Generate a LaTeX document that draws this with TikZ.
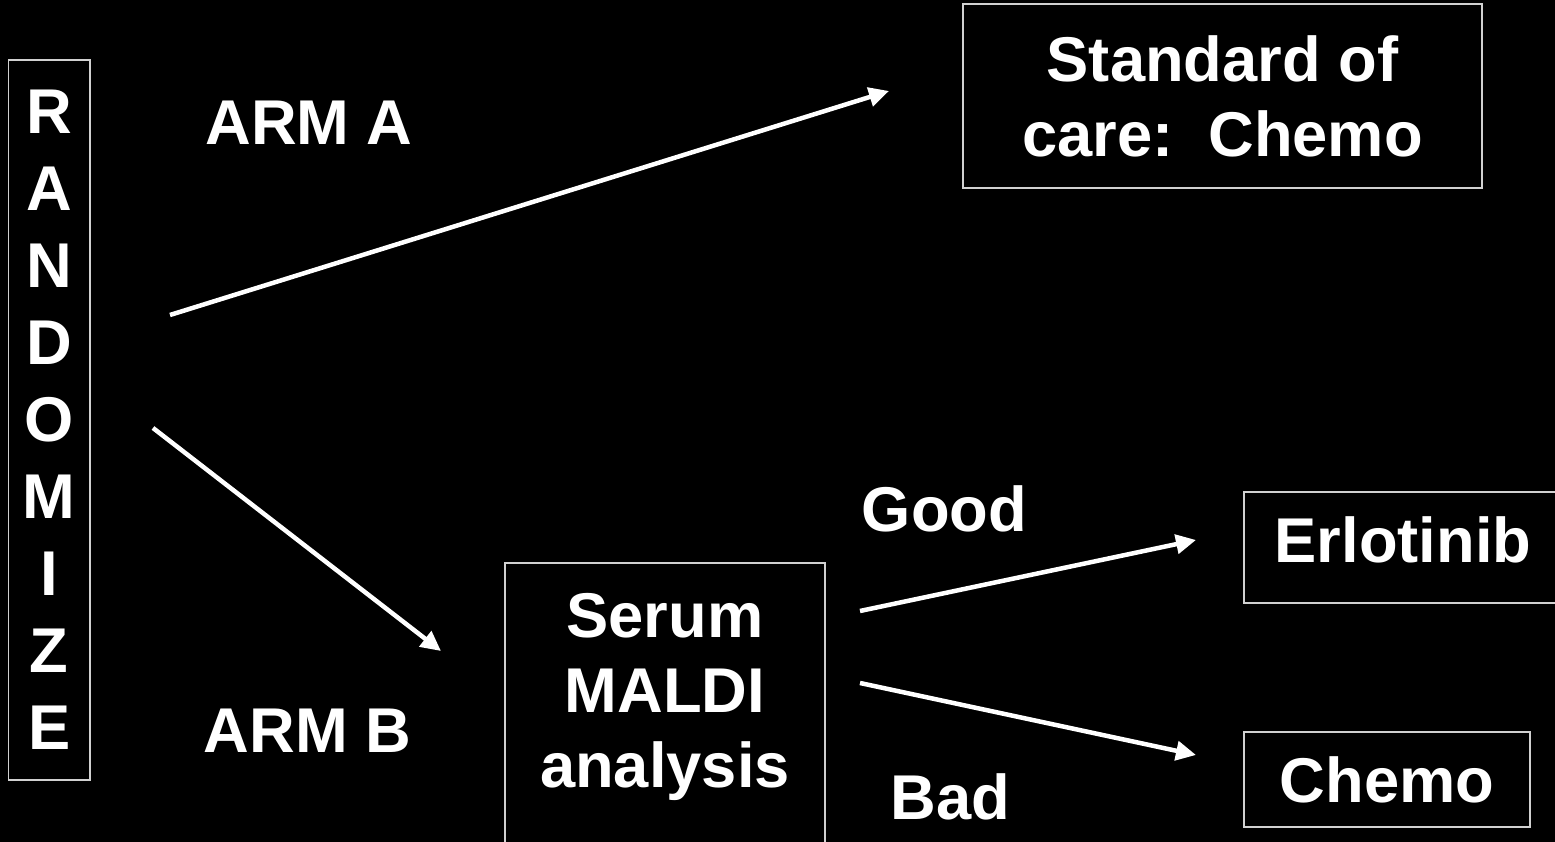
\documentclass[tikz,border=0pt]{standalone}
\usepackage{fontspec}
\setmainfont{Liberation Sans}
\usetikzlibrary{arrows.meta, positioning}
\tikzset{
  lbl/.style={
    text=white, font=\bfseries\fontsize{36}{42.7}\selectfont,
    inner sep=0pt, align=center
  },
  box/.style={
    rectangle, draw=white!82!black, line width=0.035cm, lbl
  },
  arr/.style={-{Triangle[length=0.4cm, width=0.38cm]}, white, line width=0.09cm}
}

\begin{document}
\begin{tikzpicture}

\path[use as bounding box, fill=black] (0,0) rectangle (31.1,16.84);

% Randomisation column
\node[box, minimum width=1.63cm, minimum height=14.4cm,
      font=\bfseries\fontsize{36}{43.8}\selectfont] (rand) at (0.985,8.44)
      {R\\A\\N\\D\\O\\M\\I\\Z\\E};

% Arm labels
\node[lbl, anchor=base] (armA) at (6.18,13.94) {ARM A};
\node[lbl, anchor=base] (armB) at (6.15,1.78)  {ARM B};

% Treatment and test boxes
\node[box, minimum width=10.38cm, minimum height=3.68cm] (std) at (24.45,14.92)
      {Standard of\\care:\ \ Chemo};
\node[box, minimum width=6.4cm, minimum height=5.94cm] (serum) at (13.3,2.61) {};
\node[lbl, below=0.62cm of serum.north] (maldi) {Serum\\MALDI\\analysis};
\node[box, minimum width=6.36cm, minimum height=2.22cm, text depth=0.3cm] (erl) at (28.06,5.89)
      {Erlotinib};
\node[box, minimum width=5.72cm, minimum height=1.9cm] (chemo) at (27.74,1.25) {Chemo};

% Outcome labels
\node[lbl, anchor=base] (good) at (18.89,6.2)  {Good};
\node[lbl, anchor=base] (bad)  at (19.01,0.44) {Bad};

% Arrow end points
\coordinate (aOut)    at (3.4,10.54);
\coordinate (aIn)     at (17.78,15.02);
\coordinate (bOut)    at (3.06,8.28);
\coordinate (bIn)     at (8.82,3.82);
\coordinate (goodOut) at (17.2,4.62);
\coordinate (goodIn)  at (23.92,6.04);
\coordinate (badOut)  at (17.2,3.18);
\coordinate (badIn)   at (23.92,1.74);

% Arrows
\draw[arr] (aOut)    -- (aIn);
\draw[arr] (bOut)    -- (bIn);
\draw[arr] (goodOut) -- (goodIn);
\draw[arr] (badOut)  -- (badIn);

\end{tikzpicture}
\end{document}
